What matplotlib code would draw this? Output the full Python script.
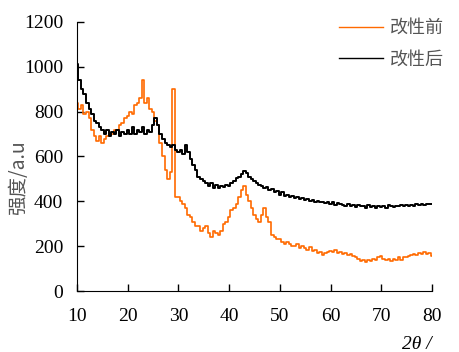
import numpy as np
import matplotlib
matplotlib.use("Agg")
import matplotlib.pyplot as plt

plt.rcParams['font.family'] = ['Liberation Serif', 'Noto Sans CJK SC', 'DejaVu Sans']

# 2theta from 10 to 80 in 0.5 deg steps
two_theta = np.arange(10, 80.01, 0.5)

# before modification (改性前)
before = [
    840, 810, 830, 790, 800, 770, 720, 690, 670, 690, 660, 680, 690, 700, 700, 720, 720, 740, 750, 770,
    780, 800, 790, 830, 840, 860, 940, 840, 860, 810, 800, 760, 740, 660, 600, 540, 500, 530, 900, 420,
    420, 400, 390, 370, 340, 330, 310, 290, 290, 270, 280, 290, 260, 240, 270, 260, 250, 270, 300, 310,
    330, 360, 370, 390, 420, 450, 470, 430, 400, 370, 340, 320, 310, 340, 370, 330, 310, 250, 240, 230,
    230, 220, 210, 220, 210, 200, 200, 210, 190, 200, 190, 185, 195, 180, 185, 170, 175, 160, 170, 175,
    180, 175, 185, 170, 175, 165, 170, 160, 165, 155, 150, 145, 135, 140, 130, 140, 135, 145, 140, 150,
    155, 145, 140, 145, 135, 145, 140, 150, 140, 150, 150, 155, 160, 165, 160, 170, 165, 175, 165, 170,
    155,
]

# after modification (改性后)
after = [
    1010, 940, 900, 880, 840, 810, 790, 760, 750, 730, 720, 700, 720, 690, 710, 700, 720, 690, 710, 700,
    720, 700, 730, 700, 720, 710, 730, 700, 720, 710, 740, 770, 740, 700, 680, 660, 650, 640, 650, 630,
    620, 630, 610, 650, 620, 590, 560, 540, 510, 500, 490, 480, 470, 480, 460, 475, 460, 470, 465, 475,
    470, 480, 490, 505, 510, 520, 535, 525, 510, 500, 490, 480, 475, 470, 460, 465, 450, 455, 440, 445,
    430, 440, 425, 430, 420, 425, 415, 420, 410, 415, 405, 410, 400, 405, 398, 400, 395, 398, 392, 395,
    390, 395, 385, 392, 388, 385, 380, 390, 378, 382, 375, 385, 378, 380, 372, 382, 375, 378, 372, 380,
    375, 380, 372, 385, 378, 375, 380, 378, 385, 380, 382, 378, 385, 380, 388, 382, 390, 385, 390, 388,
    390,
]

labels = ["改性前", "改性后"]
colors = ["#ff6a00", "black"]

fig = plt.figure(figsize=(4.59, 3.52), dpi=100)
ax = fig.add_axes([0.168, 0.173, 0.773, 0.765])

ax.plot(two_theta, before, color=colors[0], lw=1.2, drawstyle="steps-mid", label=labels[0])
ax.plot(two_theta, after, color=colors[1], lw=1.4, drawstyle="steps-mid", label=labels[1])

ax.set_xlim(10, 80)
ax.set_ylim(0, 1200)
ax.set_xticks(range(10, 81, 10))
ax.set_yticks(range(0, 1201, 200))
ax.spines["top"].set_visible(False)
ax.spines["right"].set_visible(False)
ax.tick_params(direction="in", length=5, width=1, labelsize=14)
ax.tick_params(axis="x", pad=12)
ax.tick_params(axis="y", pad=10)

ax.set_ylabel("强度/a.u", fontsize=14, color="#555555",
              family=["Noto Sans CJK SC", "DejaVu Sans"])
ax.yaxis.set_label_coords(-0.135, 0.42)
ax.text(1.0, -0.2, "2θ /", transform=ax.transAxes, ha="right", va="center",
        fontsize=14, fontstyle="italic")

leg = ax.legend(loc="upper right", bbox_to_anchor=(1.08, 1.07), frameon=False,
                handlelength=2.4, handletextpad=0.4, labelspacing=0.75,
                prop={"family": ["Noto Sans CJK SC", "DejaVu Sans"], "size": 13})
for t in leg.get_texts():
    t.set_color("#555555")
for h in leg.legend_handles:
    h.set_linewidth(1.0)

fig.savefig("out.png", dpi=100)
